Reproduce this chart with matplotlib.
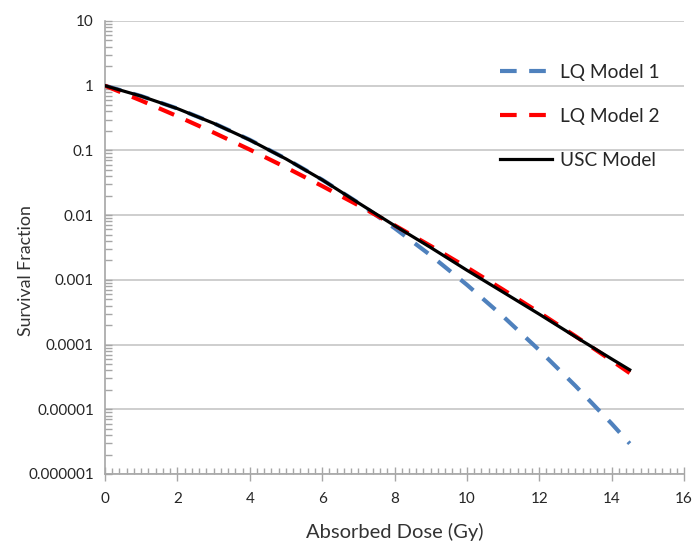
import matplotlib
matplotlib.use("Agg")
import matplotlib.pyplot as plt
from matplotlib.ticker import MultipleLocator, LogLocator, NullFormatter, FixedLocator

plt.rcParams['font.family'] = ['Lato', 'DejaVu Sans']

# dose (Gy)
dose = [0, 1, 2, 3, 4, 5, 6, 7, 8, 9, 10, 11, 12, 13, 14, 14.5]

# survival fractions
lq_model_1 = [1, 0.692, 0.444, 0.264, 0.146, 0.0745, 0.0353, 0.0155, 0.00632,
              0.00239, 0.00084, 0.000273, 8.2e-5, 2.3e-5, 6.0e-6, 2.95e-6]
lq_model_2 = [1, 0.589, 0.338, 0.189, 0.103, 0.0546, 0.0282, 0.0142, 0.00698,
              0.00334, 0.00156, 0.000706, 0.000313, 0.000135, 5.65e-5, 3.63e-5]
usc_model = [1, 0.69, 0.443, 0.263, 0.145, 0.074, 0.0352, 0.0155, 0.0069,
             0.00316, 0.00141, 0.000646, 0.000295, 0.000132, 6.0e-5, 4.07e-5]

y_ticks = [1e-6, 1e-5, 1e-4, 1e-3, 1e-2, 1e-1, 1, 10]
y_tick_labels = ['0.000001', '0.00001', '0.0001', '0.001', '0.01', '0.1', '1', '10']
x_ticks = [0, 2, 4, 6, 8, 10, 12, 14, 16]

fig = plt.figure(figsize=(6.94, 5.42), dpi=100)
ax = fig.add_axes([105/694, 1 - 474/542, (684 - 105)/694, (474 - 21)/542])

ax.plot(dose, lq_model_1, color='#4f81bd', lw=3, linestyle=(0, (4, 3)),
        label='LQ Model 1', zorder=3)
ax.plot(dose, lq_model_2, color='#ff0000', lw=3, linestyle=(0, (4, 3)),
        label='LQ Model 2', zorder=4)
ax.plot(dose, usc_model, color='black', lw=2.3, label='USC Model', zorder=5)

ax.set_yscale('log')
ax.set_ylim(1e-6, 10)
ax.set_xlim(0, 16)

ax.yaxis.set_major_locator(FixedLocator(y_ticks))
ax.set_yticklabels(y_tick_labels)
ax.yaxis.set_minor_locator(LogLocator(base=10, subs=range(2, 10), numticks=20))
ax.yaxis.set_minor_formatter(NullFormatter())
ax.set_xticks(x_ticks)
ax.xaxis.set_minor_locator(MultipleLocator(0.2))

ax.grid(True, axis='y', which='major', color='#c6c6c6', lw=1.2)
ax.set_axisbelow(True)

for s in ['top', 'right']:
    ax.spines[s].set_visible(False)
for s in ['left', 'bottom']:
    ax.spines[s].set_color('#a6a6a6')
    ax.spines[s].set_linewidth(1.2)

ax.tick_params(axis='x', which='major', direction='inout', length=10, width=1,
               color='#a6a6a6', labelsize=11, labelcolor='#262626', pad=8)
ax.tick_params(axis='x', which='minor', direction='in', length=4, width=1,
               color='#a6a6a6')
ax.tick_params(axis='y', which='major', direction='in', length=5, width=1,
               color='#a6a6a6', labelsize=11, labelcolor='#262626', pad=8)
ax.tick_params(axis='y', which='minor', direction='in', length=5, width=1,
               color='#a6a6a6')

ax.set_xlabel('Absorbed Dose (Gy)', fontsize=14.5, color='#333333')
ax.xaxis.set_label_coords(0.5, -0.108)
ax.set_ylabel('Survival Fraction', fontsize=12.8, color='#333333')
ax.yaxis.set_label_coords(-0.123, 0.45)

leg = ax.legend(loc='upper left', bbox_to_anchor=(500/694, 1 - 64/542),
                bbox_transform=fig.transFigure, frameon=False, fontsize=13.8,
                handlelength=2.7, handletextpad=0.42, labelspacing=1.4,
                borderpad=0, borderaxespad=0)
for t in leg.get_texts():
    t.set_color('#262626')

fig.savefig('out.png', dpi=100)
